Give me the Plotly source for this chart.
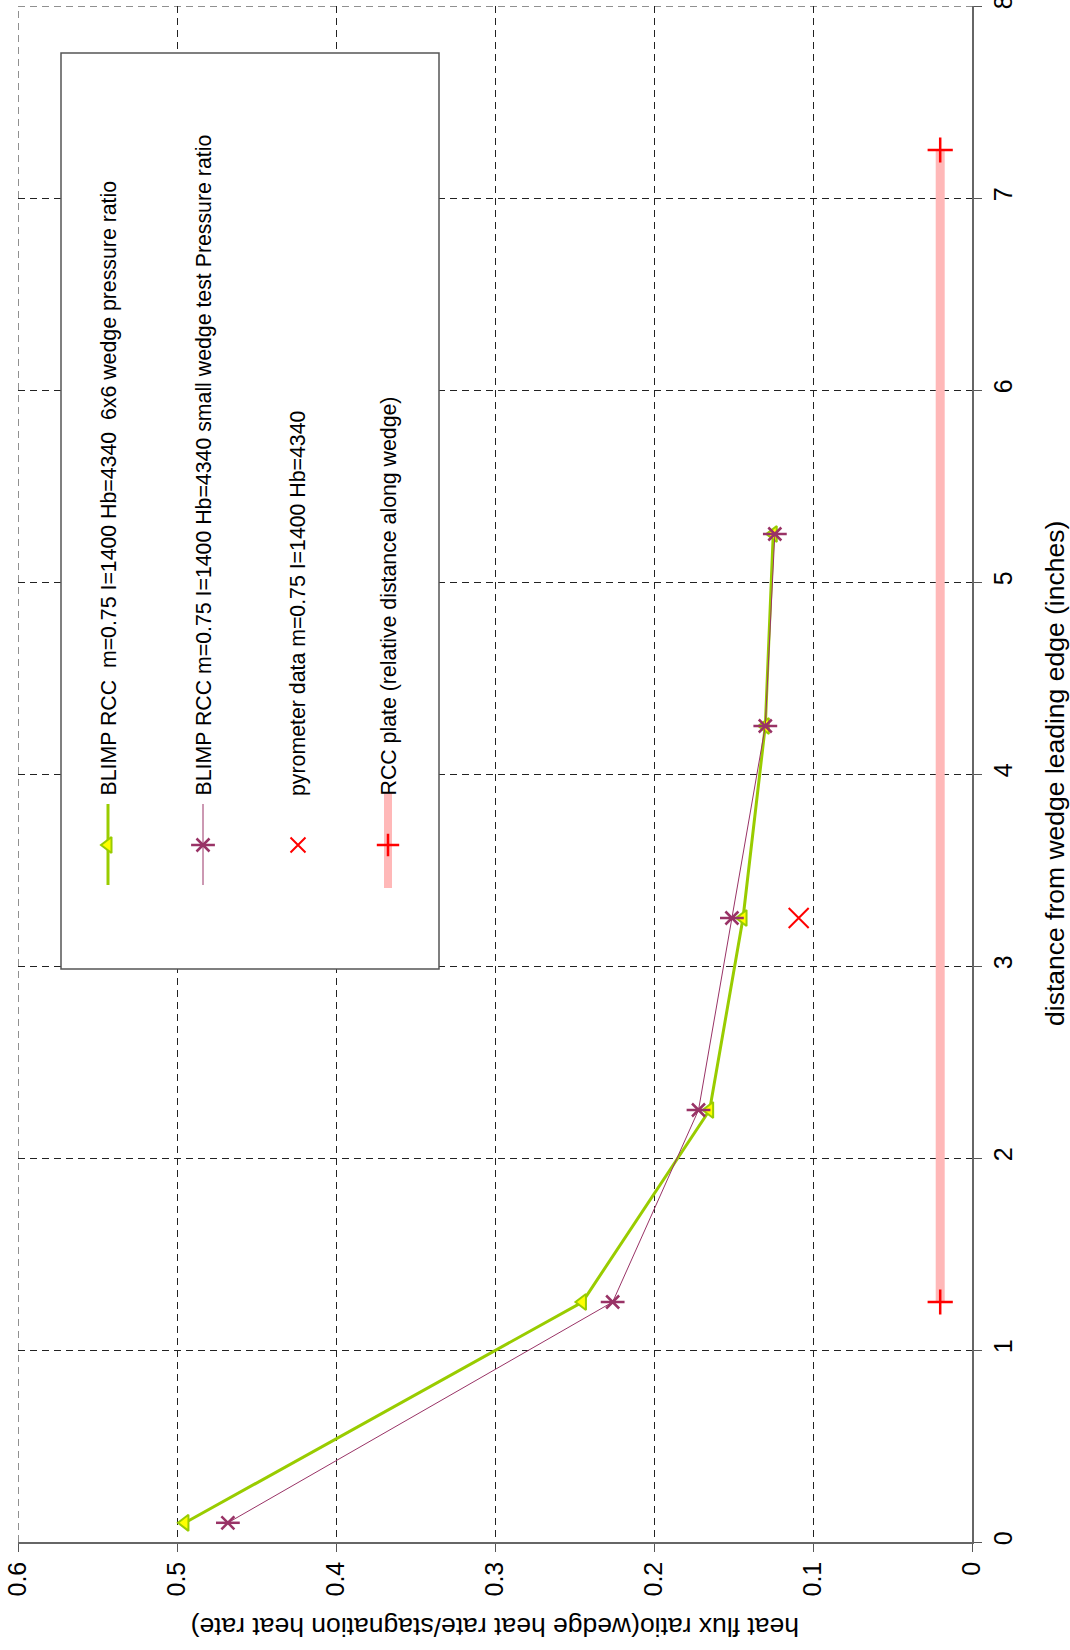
import plotly.graph_objects as go

# Heat flux ratio along the wedge, plotted turned on its side:
# heat flux ratio runs along the bottom (0.6 -> 0), distance up the right side.
distance = [0.1, 1.25, 2.25, 3.25, 4.25, 5.25]
blimp_6x6 = [0.495, 0.245, 0.165, 0.144, 0.130, 0.125]
blimp_small = [0.468, 0.226, 0.172, 0.151, 0.130, 0.124]

pyro_distance = [3.25]
pyro_ratio = [0.109]

plate_distance = [1.25, 7.25]
plate_ratio = [0.02, 0.02]

names = [
    "BLIMP RCC\u00a0\u00a0m=0.75 I=1400 Hb=4340\u00a0\u00a06x6 wedge pressure ratio",
    "BLIMP RCC m=0.75 I=1400 Hb=4340 small wedge test Pressure ratio",
    "pyrometer data m=0.75 I=1400 Hb=4340",
    "RCC plate (relative distance along wedge)",
]
ratio_ticks = [0.6, 0.5, 0.4, 0.3, 0.2, 0.1, 0]
distance_ticks = list(range(0, 9))

GREEN = "#99CC00"
YELLOW = "#FFFF00"
PURPLE = "#993366"
RED = "#FF0000"
PINK = "#FFB8B8"
GRID = "#222222"
FONT = "Liberation Sans, Arial, sans-serif"

W, H = 1070, 1650
L, R, T, B = 18, 98, 6, 108
XR = (0.6, 0.0)
YR = (0.0, 8.0)


def px_to_data(px, py):
    """Convert page pixels to data coordinates of the main axes."""
    fx = (px - L) / (W - L - R)
    fy = (H - B - py) / (H - T - B)
    return XR[0] + fx * (XR[1] - XR[0]), YR[0] + fy * (YR[1] - YR[0])


fig = go.Figure()

# dashed grid lines along the far edges of the plot (left and top)
fig.add_shape(type="line", xref="x", yref="y", x0=XR[0], x1=XR[0], y0=YR[0], y1=YR[1],
              line=dict(color=GRID, width=1, dash="7px,5px"), layer="between")
fig.add_shape(type="line", xref="x", yref="y", x0=XR[0], x1=XR[1], y0=YR[1], y1=YR[1],
              line=dict(color=GRID, width=1, dash="7px,5px"), layer="between")

# RCC plate band
fig.add_trace(go.Scatter(
    x=plate_ratio, y=plate_distance, mode="lines+markers",
    line=dict(color=PINK, width=9),
    marker=dict(symbol="cross-thin-open", size=18, color=RED, line=dict(width=2.5)),
    showlegend=False))

# BLIMP 6x6 wedge
fig.add_trace(go.Scatter(
    x=blimp_6x6, y=distance, mode="lines+markers",
    line=dict(color=GREEN, width=3),
    marker=dict(symbol="triangle-left", size=14, color=YELLOW,
                line=dict(color=GREEN, width=2)),
    showlegend=False))

# BLIMP small wedge
fig.add_trace(go.Scatter(
    x=blimp_small, y=distance, mode="lines+markers",
    line=dict(color=PURPLE, width=1),
    marker=dict(symbol="x-thin-open", size=13, color=PURPLE, line=dict(width=2.5)),
    showlegend=False))
fig.add_trace(go.Scatter(
    x=blimp_small, y=distance, mode="markers",
    marker=dict(symbol="line-ew-open", size=17, color=PURPLE, line=dict(width=2.5)),
    showlegend=False, hoverinfo="skip"))

# pyrometer
fig.add_trace(go.Scatter(
    x=pyro_ratio, y=pyro_distance, mode="markers",
    marker=dict(symbol="x-thin-open", size=20, color=RED, line=dict(width=2)),
    showlegend=False))

# ---- legend box drawn by hand (vertical text) ----
box_x0, box_y0 = px_to_data(61, 969)
box_x1, box_y1 = px_to_data(439, 53)
fig.add_shape(type="rect", xref="x", yref="y", x0=box_x0, x1=box_x1,
              y0=box_y0, y1=box_y1, fillcolor="white",
              line=dict(color="#555555", width=1.5), layer="between")

col_px = [108, 203, 298, 388]
line_top_px, line_bot_px, mark_px, text_px = 804, 885, 845, 798


def legend_sample(cx, line=None, band=None, marker=None, extra=None):
    x, y_top = px_to_data(cx, line_top_px)
    _, y_bot = px_to_data(cx, line_bot_px)
    _, y_mid = px_to_data(cx, mark_px)
    if line is not None:
        fig.add_trace(go.Scatter(x=[x, x], y=[y_bot, y_top], mode="lines",
                                 line=line, showlegend=False, hoverinfo="skip"))
    if band is not None:
        _, yb0 = px_to_data(cx, 888)
        _, yb1 = px_to_data(cx, 792)
        fig.add_trace(go.Scatter(x=[x, x], y=[yb0, yb1], mode="lines",
                                 line=band, showlegend=False, hoverinfo="skip"))
    for m in (marker, extra):
        if m is not None:
            fig.add_trace(go.Scatter(x=[x], y=[y_mid], mode="markers", marker=m,
                                     showlegend=False, hoverinfo="skip"))


legend_sample(col_px[0], line=dict(color=GREEN, width=3),
              marker=dict(symbol="triangle-left", size=14, color=YELLOW,
                          line=dict(color=GREEN, width=2)))
legend_sample(col_px[1], line=dict(color=PURPLE, width=1),
              marker=dict(symbol="x-thin-open", size=13, color=PURPLE, line=dict(width=2.5)),
              extra=dict(symbol="line-ew-open", size=17, color=PURPLE, line=dict(width=2.5)))
legend_sample(col_px[2],
              marker=dict(symbol="x-thin-open", size=15, color=RED, line=dict(width=2)))
legend_sample(col_px[3], band=dict(color=PINK, width=8),
              marker=dict(symbol="cross-thin-open", size=16, color=RED, line=dict(width=2.5)))

for cx, name in zip(col_px, names):
    tx, ty = px_to_data(cx, text_px)
    fig.add_annotation(x=tx, y=ty, xref="x", yref="y", text=name, textangle=-90,
                       showarrow=False, xanchor="center", yanchor="bottom",
                       font=dict(family=FONT, size=21.3, color="black"))

# axis titles
fig.add_annotation(x=0.5, y=-0.0553, xref="paper", yref="paper",
                   text="heat flux ratio(wedge heat rate/stagnation heat rate)",
                   textangle=180, showarrow=False, xanchor="center", yanchor="middle",
                   font=dict(family=FONT, size=26.5, color="black"))
fig.add_annotation(x=(1055 - L) / (W - L - R), y=0.5, xref="paper", yref="paper",
                   text="distance from wedge leading edge (inches)",
                   textangle=-90, showarrow=False, xanchor="center", yanchor="middle",
                   font=dict(family=FONT, size=26.5, color="black"))

grid = dict(showgrid=True, gridcolor=GRID, gridwidth=1, griddash="7px,5px",
            zeroline=False, showline=True, linecolor="#666666", linewidth=1.5,
            ticks="outside", ticklen=8, tickwidth=1.2, tickcolor="#555555",
            tickangle=-90, ticklabeloverflow="allow", automargin=False,
            tickfont=dict(family=FONT, size=25, color="black"))

fig.update_layout(
    width=W, height=H,
    margin=dict(l=L, r=R, t=T, b=B, autoexpand=False),
    paper_bgcolor="white", plot_bgcolor="white",
    showlegend=False,
    xaxis=dict(range=list(XR), tickvals=ratio_ticks,
               ticktext=[f"{v:g}" for v in ratio_ticks], side="bottom", **grid),
    yaxis=dict(range=list(YR), tickvals=distance_ticks,
               ticktext=[str(v) for v in distance_ticks], side="right", **grid),
)

fig.write_html("out.html")
